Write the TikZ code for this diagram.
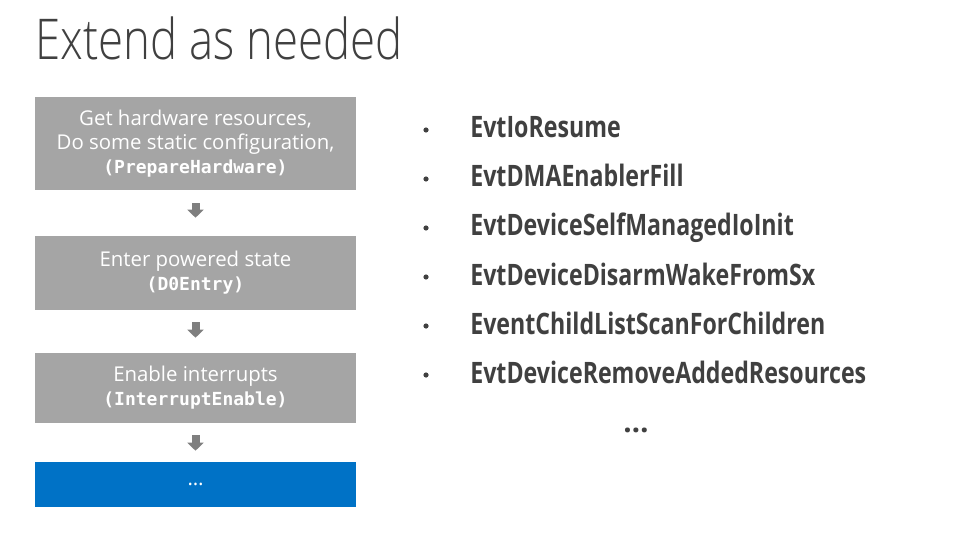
\documentclass[tikz,border=0pt]{standalone}
\usepackage{fontspec}
\setmainfont{Open Sans}
\setmonofont{DejaVu Sans Mono}
\newfontfamily\titlefont{Open Sans Light}[FakeStretch=0.81]
\newfontfamily\evtfont{Open Sans}[FakeStretch=0.785]
\usetikzlibrary{arrows.meta}
\definecolor{stagegray}{HTML}{A5A5A5}
\definecolor{arrowgray}{HTML}{7F7F7F}
\definecolor{stageblue}{HTML}{0072C6}
\definecolor{textgray}{HTML}{404040}
\newcommand{\fn}[1]{\texttt{\fontsize{12.8}{17}\selectfont\bfseries (#1)}}

\begin{document}
\begin{tikzpicture}[
	stage/.style={fill=stagegray, text=white, minimum width=8.025cm, inner sep=0pt, align=center, font=\fontsize{14.5}{17}\selectfont},
	flow/.style={draw=arrowgray, line width=0.2cm, -{Triangle[length=0.2cm, width=0.4cm]}},
	dot/.style={circle, fill=textgray, inner sep=0pt, minimum size=0.13cm},
	evt/.style={anchor=base west, inner sep=0pt, text=textgray, font=\evtfont\fontsize{21}{25}\selectfont\bfseries}
]
	\useasboundingbox (0,0) rectangle (24.475,-13.775);

	\node[anchor=base west, inner sep=0pt, text=textgray, font=\titlefont\fontsize{40}{48}\selectfont] (title) at (0.875, -1.5) {Extend as needed};

	% Left column: the stages
	\node[stage, minimum height=2.325cm] (s1) at (4.8875, -3.5875) {Get hardware resources,\\Do some static configuration,\\\fn{PrepareHardware}};
	\node[stage, minimum height=1.85cm] (s2) at (4.8875, -6.825) {Enter powered state\\\fn{D0Entry}};
	\node[stage, minimum height=1.75cm] (s3) at (4.8875, -9.7) {Enable interrupts\\\fn{InterruptEnable}};
	\node[stage, minimum height=1.125cm, fill=stageblue] (s4) at (4.8875, -12.1125) {\dots};

	\draw[flow, shorten <=0.325cm, shorten >=0.45cm] (s1) -- (s2);
	\draw[flow, shorten <=0.3cm, shorten >=0.375cm] (s2) -- (s3);
	\draw[flow, shorten <=0.3cm, shorten >=0.275cm] (s3) -- (s4);

	% Right column: the callbacks
	\foreach \name [count=\i] in {EvtIoResume, EvtDMAEnablerFill, EvtDeviceSelfManagedIoInit, EvtDeviceDisarmWakeFromSx, EventChildListScanForChildren, EvtDeviceRemoveAddedResources} {
		\node[dot] (dot\i) at ({10.65}, {-3.25-1.225*(\i-1)}) {};
		\node[evt] (evt\i) at ({11.75}, {-3.45-1.225*(\i-1)}) {\name};
	}
	\node[text=textgray, font=\fontsize{21}{25}\selectfont\bfseries] (more) at (15.9, -10.75) {\dots};
\end{tikzpicture}
\end{document}
